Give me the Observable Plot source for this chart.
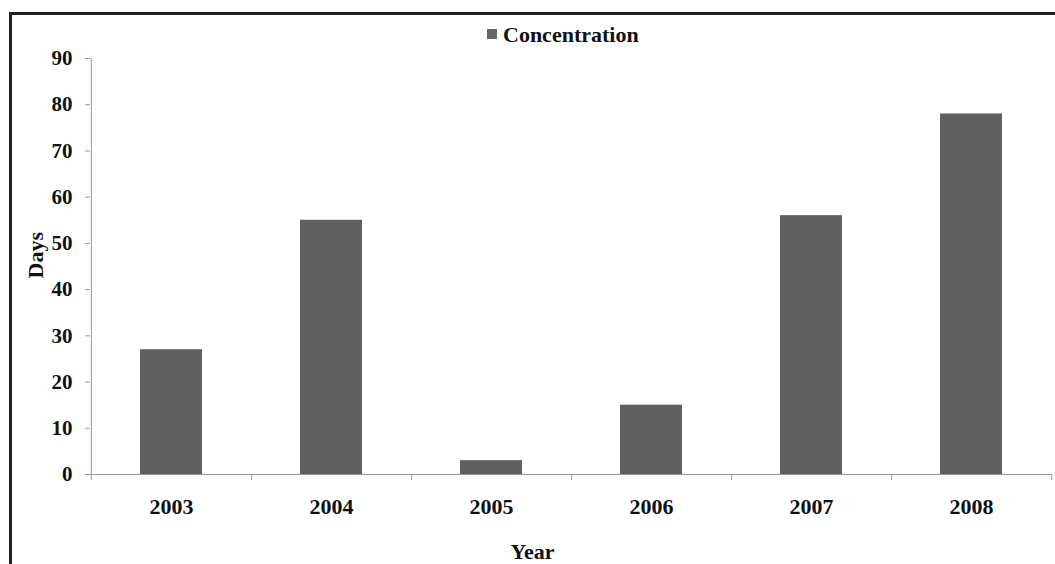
<!DOCTYPE html>
<html>
<head>
<meta charset="utf-8">
<script src="https://cdn.jsdelivr.net/npm/d3@7"></script>
<script src="https://cdn.jsdelivr.net/npm/@observablehq/plot@0.6"></script>
<style>
  body { margin: 0; background: #fff; }
  #chart {
    position: relative; width: 1055px; height: 564px; overflow: hidden;
    font-family: "Liberation Serif", "Times New Roman", serif; font-weight: bold; color: #111;
  }
  #border {
    position: absolute; left: 9px; top: 12px; right: -10px; bottom: -10px;
    border-left: 3px solid #222; border-top: 3px solid #222; pointer-events: none;
  }
  #legend-swatch { position: absolute; left: 487px; top: 29px; width: 10px; height: 10px; background: #666; }
  #legend-label { position: absolute; left: 503px; top: 24px; font-size: 22px; line-height: 22px; white-space: nowrap; }
</style>
</head>
<body>
<div id="chart">
  <div id="border"></div>
  <div id="legend-swatch"></div>
  <div id="legend-label">Concentration</div>
</div>
<script>
// Number of days per year
const years = ["2003", "2004", "2005", "2006", "2007", "2008"];
const days = [27, 55, 3, 15, 56, 78];
const yTicks = [0, 10, 20, 30, 40, 50, 60, 70, 80, 90];
const seriesName = "Concentration";

const data = years.map((year, i) => ({year, days: days[i], series: seriesName}));

const W = 1055, H = 564;
const mL = 90, mR = 3, mT = 58, mB = 90;
const step = (W - mL - mR) / years.length; // width of one category slot
const axisGray = "#9a9a9a";
const font = "'Liberation Serif', 'Times New Roman', serif";

const chart = Plot.plot({
  width: W,
  height: H,
  marginLeft: mL,
  marginRight: mR,
  marginTop: mT,
  marginBottom: mB,
  style: { fontFamily: font, fontWeight: "bold", background: "transparent", color: "#111" },
  x: { domain: years, paddingInner: 0.61, paddingOuter: 0.305, axis: null },
  y: { domain: [0, 90], axis: null },
  marks: [
    Plot.barY(data, { x: "year", y: "days", fill: "#606060" }),
    // baseline and value-axis line
    Plot.ruleY([0], { stroke: axisGray }),
    Plot.ruleX([years[0]], { x: d => d, dx: -step / 2, y1: 90, y2: 0, insetBottom: -6, stroke: axisGray }),
    // tick marks between categories
    Plot.ruleX(years, { x: d => d, dx: step / 2, y1: 0, y2: 0, insetBottom: -6, stroke: axisGray }),
    Plot.axisY({ ticks: yTicks, tickSize: 5, tickPadding: 13, fontSize: 21, fontWeight: "bold",
                 stroke: axisGray, fill: "#111", tickFormat: d => String(d), label: null }),
    Plot.axisX({ tickSize: 0, tickPadding: 24, fontSize: 22, fontWeight: "bold", fill: "#111", label: null }),
    Plot.text(["Year"], { text: d => d, frameAnchor: "bottom", dx: -39, dy: 77, lineAnchor: "middle",
                          fontSize: 22, fontWeight: "bold", fill: "#111" }),
    Plot.text(["Days"], { text: d => d, frameAnchor: "left", dx: -55, dy: 12, rotate: -90, lineAnchor: "middle",
                          fontSize: 22, fontWeight: "bold", fill: "#111" })
  ]
});
chart.style.position = "absolute";
chart.style.left = "0";
chart.style.top = "0";
document.getElementById("chart").prepend(chart);
</script>
</body>
</html>
